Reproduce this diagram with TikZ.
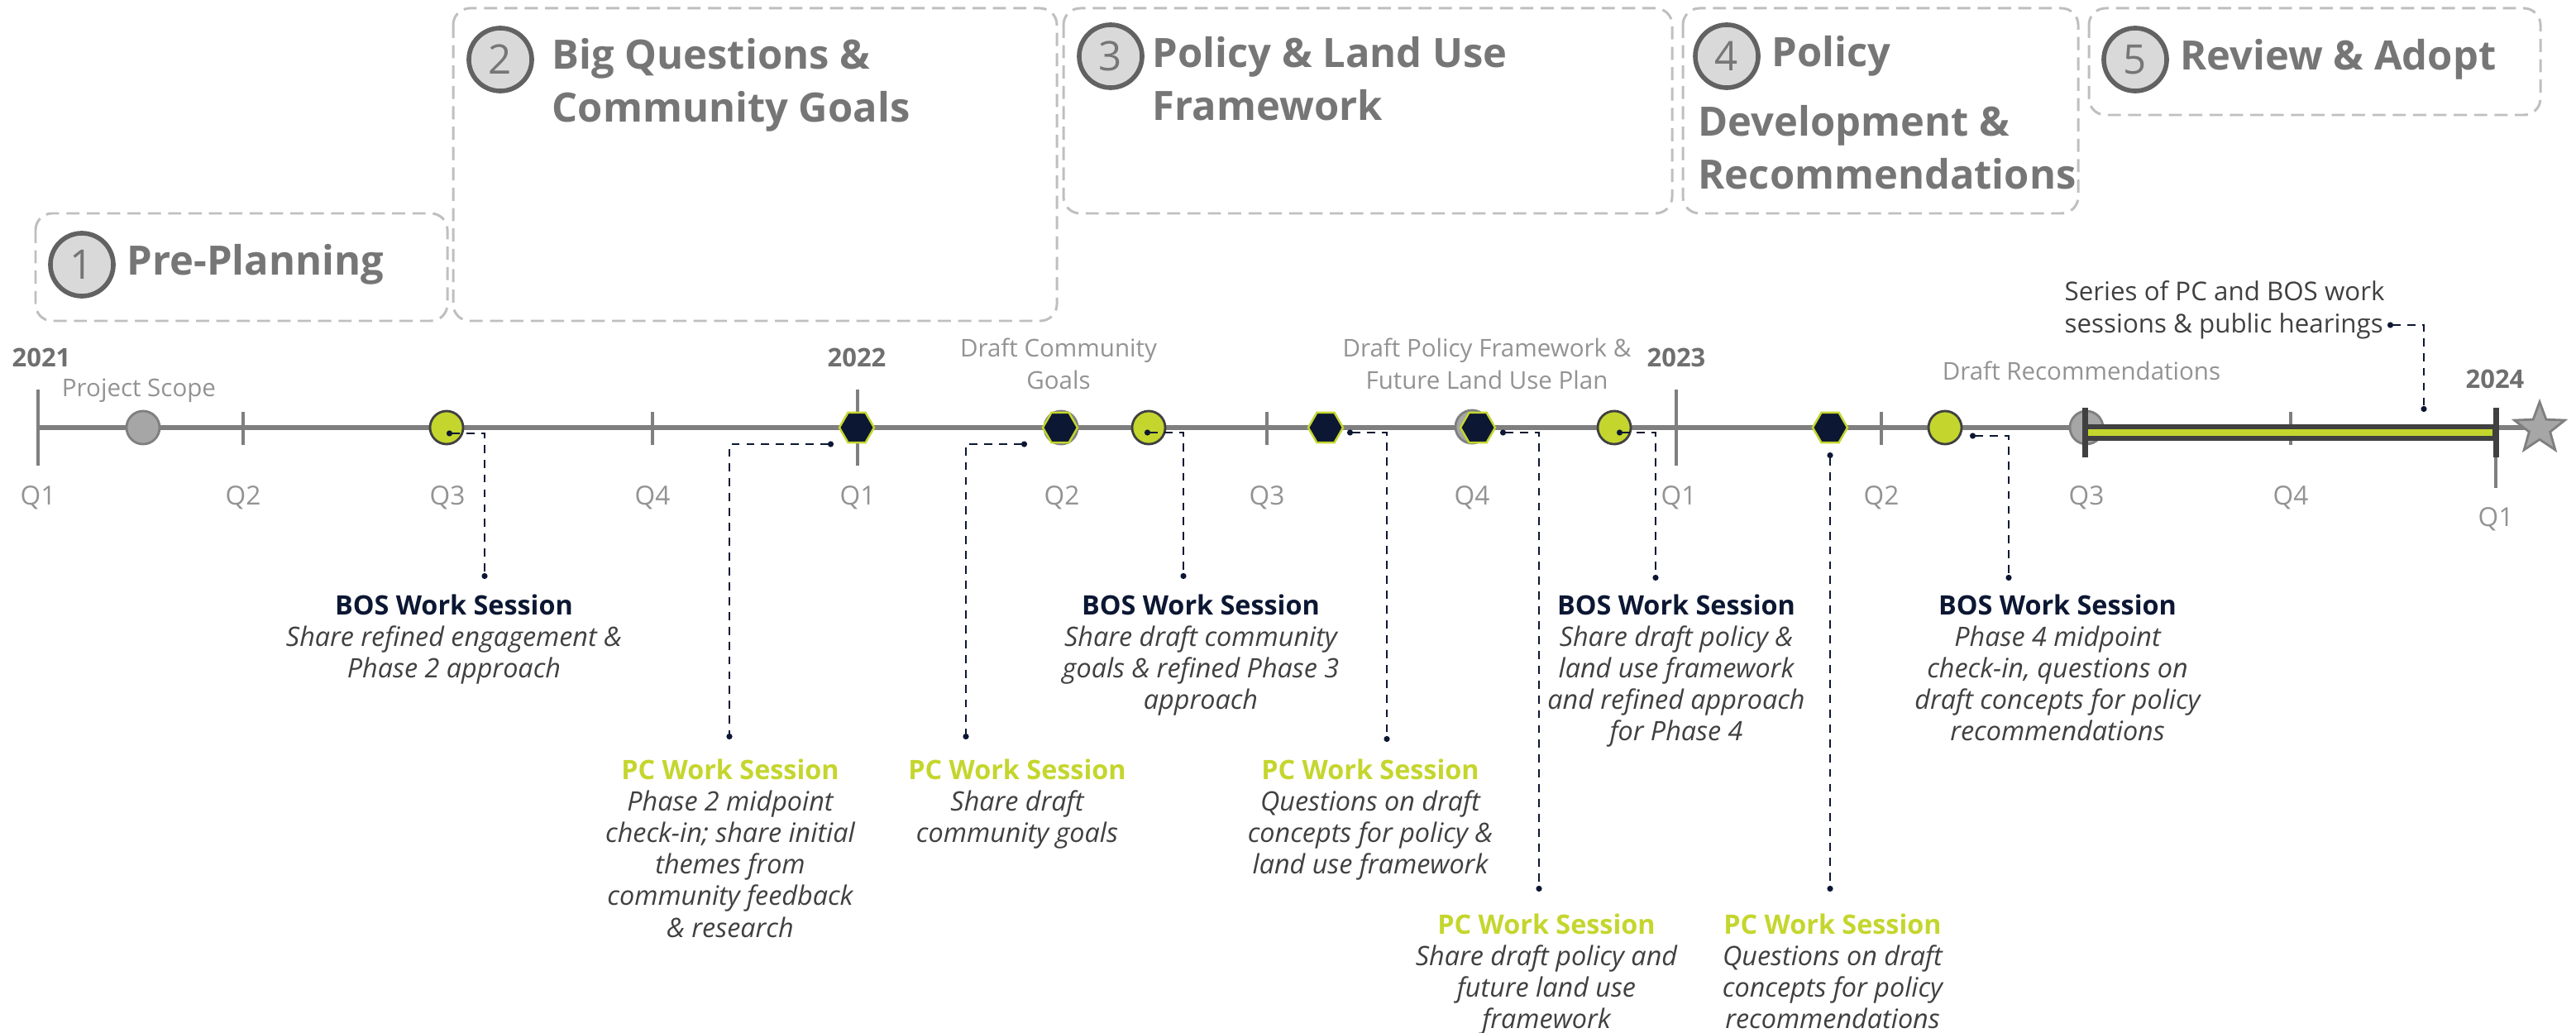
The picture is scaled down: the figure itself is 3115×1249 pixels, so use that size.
\documentclass[tikz,border=0pt]{standalone}
\usepackage{fontspec}
\setmainfont{Open Sans}
\usetikzlibrary{positioning,shapes.geometric,arrows.meta,calc}

\definecolor{lime}{HTML}{C4D62E}
\definecolor{navy}{HTML}{0C1733}
\definecolor{axisgrey}{HTML}{7F7F7F}
\definecolor{boxgrey}{HTML}{BFBFBF}
\definecolor{titlegrey}{HTML}{767676}
\definecolor{yeargrey}{HTML}{6F6F6F}
\definecolor{lightgrey}{HTML}{939393}
\definecolor{textgrey}{HTML}{404040}
\definecolor{numfill}{HTML}{D9D9D9}
\definecolor{numring}{HTML}{626262}
\definecolor{dotgrey}{HTML}{A6A6A6}

\newcommand{\bostitle}{{\upshape\bfseries\color{navy}BOS Work Session}}
\newcommand{\pctitle}{{\upshape\bfseries\color{lime}PC Work Session}}

\begin{document}
\begin{tikzpicture}[x=0.01cm, y=-0.01cm,
  phase/.style = {draw=boxgrey, line width=0.85pt, dash pattern=on 4.5pt off 2.5pt, rounded corners=0.2cm},
  num/.style = {circle, draw=numring, line width=1.6pt, fill=numfill, minimum size=0.76cm, inner sep=0, text=titlegrey, font=\fontsize{14}{14}\selectfont},
  phasetitle/.style = {inner sep=0, text=titlegrey, align=left, font=\fontsize{13.9}{18.2}\selectfont\bfseries},
  yearlbl/.style = {inner sep=0, text=yeargrey, font=\fontsize{8.8}{10}\selectfont\bfseries},
  qlbl/.style = {inner sep=0, text=lightgrey, font=\fontsize{9}{10}\selectfont},
  draftlbl/.style = {inner sep=0, text=lightgrey, align=center, font=\fontsize{8.4}{11}\selectfont},
  milestone/.style = {circle, minimum size=0.40cm, inner sep=0, fill=dotgrey, draw=axisgrey, line width=0.8pt},
  bosmark/.style = {circle, minimum size=0.40cm, inner sep=0, fill=lime, draw=textgrey, line width=0.8pt},
  pcmark/.style = {regular polygon, regular polygon sides=6, minimum size=0.42cm, inner sep=0, fill=navy, draw=lime, line width=0.7pt},
  note/.style = {anchor=north, inner sep=0, align=center, text=textgrey, font=\fontsize{9.2}{10.85}\selectfont\itshape},
  link/.style = {navy, line width=0.6pt, dash pattern=on 2.8pt off 2.3pt, arrows={Circle[length=2pt]-Circle[length=2pt]}},
  tick/.style = {axisgrey, line width=1.1pt}
]
\useasboundingbox (0,0) rectangle (3115,1249);

% phases
\draw[phase] (43,258) rectangle (541,388);
\draw[phase] (548,10) rectangle (1278,388);
\draw[phase] (1286,10) rectangle (2022,258);
\draw[phase] (2035,10) rectangle (2513,258);
\draw[phase] (2526,10) rectangle (3072,139);

\node[num] (n1) at (99,320) {1};
\node[phasetitle, right=0.13cm of n1] (t1) {Pre-Planning};
\node[num] (n2) at (605,72) {2};
\node[phasetitle, anchor=north west] (t2) at (667,46) {Big Questions \&\\Community Goals};
\node[num] (n3) at (1343,68) {3};
\node[phasetitle, anchor=north west] (t3) at (1393,44) {Policy \& Land Use\\Framework};
\node[num] (n4) at (2088,68) {4};
\node[phasetitle, right=0.13cm of n4] (t4) {Policy};
\node[phasetitle, anchor=north west] (t4b) at (2053,127) {Development \&\\Recommendations};
\node[num] (n5) at (2582,72) {5};
\node[phasetitle, right=0.13cm of n5] (t5) {Review \& Adopt};

% timeline
\draw[axisgrey, line width=1.45pt] (46,517) -- (3070,517);
\draw[tick] (46,471) -- (46,563);
\draw[tick] (1037,471) -- (1037,563);
\draw[tick] (2027,471) -- (2027,563);
\draw[tick] (3018,493) -- (3018,590);
\draw[tick] (294,498) -- (294,538);
\draw[tick] (789,498) -- (789,538);
\draw[tick] (1532,498) -- (1532,538);
\draw[tick] (2275,498) -- (2275,538);
\draw[tick] (2770,498) -- (2770,538);

\node[yearlbl, anchor=base] (y1) at (50,443) {2021};
\node[yearlbl, anchor=base] (y2) at (1036,443) {2022};
\node[yearlbl, anchor=base] (y3) at (2027,443) {2023};
\node[yearlbl, anchor=base] (y4) at (3017,470) {2024};

\node[qlbl] (q1) at (46,602) {Q1};
\node[qlbl] (q2) at (294,602) {Q2};
\node[qlbl] (q3) at (541,602) {Q3};
\node[qlbl] (q4) at (789,602) {Q4};
\node[qlbl] (q5) at (1037,602) {Q1};
\node[qlbl] (q6) at (1284,602) {Q2};
\node[qlbl] (q7) at (1532,602) {Q3};
\node[qlbl] (q8) at (1780,602) {Q4};
\node[qlbl] (q9) at (2030,602) {Q1};
\node[qlbl] (q10) at (2275,602) {Q2};
\node[qlbl] (q11) at (2523,602) {Q3};
\node[qlbl] (q12) at (2770,602) {Q4};
\node[qlbl] (q13) at (3018,628) {Q1};

\node[draftlbl] (scope) at (168,472) {Project Scope};
\node[draftlbl] (goals) at (1280,440) {Draft Community\\Goals};
\node[draftlbl] (frame) at (1798,440) {Draft Policy Framework \&\\Future Land Use Plan};
\node[draftlbl] (recs) at (2517,448) {Draft Recommendations};

% markers
\node[milestone] (m1) at (173,517) {};
\node[bosmark] (g1) at (540,517) {};
\node[pcmark] (h1) at (1036,517) {};
\node[milestone] (m2) at (1283,517) {};
\node[pcmark] (h2) at (1282,517) {};
\node[bosmark] (g2) at (1389,517) {};
\node[pcmark] (h3) at (1603,517) {};
\node[milestone] (m3) at (1780,516) {};
\node[pcmark] (h4) at (1787,517) {};
\node[bosmark] (g3) at (1952,517) {};
\node[pcmark] (h5) at (2213,517) {};
\node[bosmark] (g4) at (2352,517) {};
\node[milestone] (m4) at (2523,517) {};

% review period
\draw[textgrey, line width=0.19cm] (2521,523) -- (3018,523);
\draw[lime, line width=0.07cm] (2525,523) -- (3014,523);
\draw[textgrey, line width=0.07cm] (2521,493) -- (2521,553);
\draw[textgrey, line width=0.07cm] (3018,493) -- (3018,553);
\node[star, star points=5, star point ratio=2.4, minimum size=0.64cm, inner sep=0, fill=dotgrey, draw=axisgrey, line width=0.8pt] (end) at (3071,518) {};

\node[anchor=north west, inner sep=0, align=left, text=textgrey, font=\fontsize{8.9}{11}\selectfont] (series) at (2496,339) {Series of PC and BOS work\\sessions \& public hearings};
\coordinate (seriesdot) at (2887,393);
\coordinate (barpt) at (2931,498);

% sessions
\node[note] (bos1) at (549,718) {\bostitle\\Share refined engagement \&\\Phase 2 approach};
\node[note] (pc1) at (883,917) {\pctitle\\Phase 2 midpoint\\check-in; share initial\\themes from\\community feedback\\\& research};
\node[note] (pc2) at (1230,917) {\pctitle\\Share draft\\community goals};
\node[note] (bos2) at (1452,718) {\bostitle\\Share draft community\\goals \& refined Phase 3\\approach};
\node[note] (pc3) at (1657,917) {\pctitle\\Questions on draft\\concepts for policy \&\\land use framework};
\node[note] (pc4) at (1870,1104) {\pctitle\\Share draft policy and\\future land use\\framework};
\node[note] (bos3) at (2027,718) {\bostitle\\Share draft policy \&\\land use framework\\and refined approach\\for Phase 4};
\node[note] (pc5) at (2216,1104) {\pctitle\\Questions on draft\\concepts for policy\\recommendations};
\node[note] (bos4) at (2488,718) {\bostitle\\Phase 4 midpoint\\check-in, questions on\\draft concepts for policy\\recommendations};

\coordinate (e1) at (586,700);
\coordinate (e2) at (882,894);
\coordinate (e3) at (1168,894);
\coordinate (e4) at (1431,700);
\coordinate (e5) at (1677,897);
\coordinate (e6) at (1861,1078);
\coordinate (e7) at (2002,702);
\coordinate (e8) at (2213,1078);
\coordinate (e9) at (2429,702);

\draw[link] ($(g1)+(0,7)$) -| (e1);
\draw[link] ($(h1)+(-28,20)$) -| (e2);
\draw[link] ($(h2)+(-40,20)$) -| (e3);
\draw[link] ($(g2)+(-5,6)$) -| (e4);
\draw[link] ($(h3)+(26,6)$) -| (e5);
\draw[link] ($(h4)+(27,6)$) -| (e6);
\draw[link] ($(g3)+(3,6)$) -| (e7);
\draw[link] ($(h5)+(0,30)$) -- (e8);
\draw[link] ($(g4)+(30,10)$) -| (e9);
\draw[link] (seriesdot) -| (barpt);
\end{tikzpicture}
\end{document}
